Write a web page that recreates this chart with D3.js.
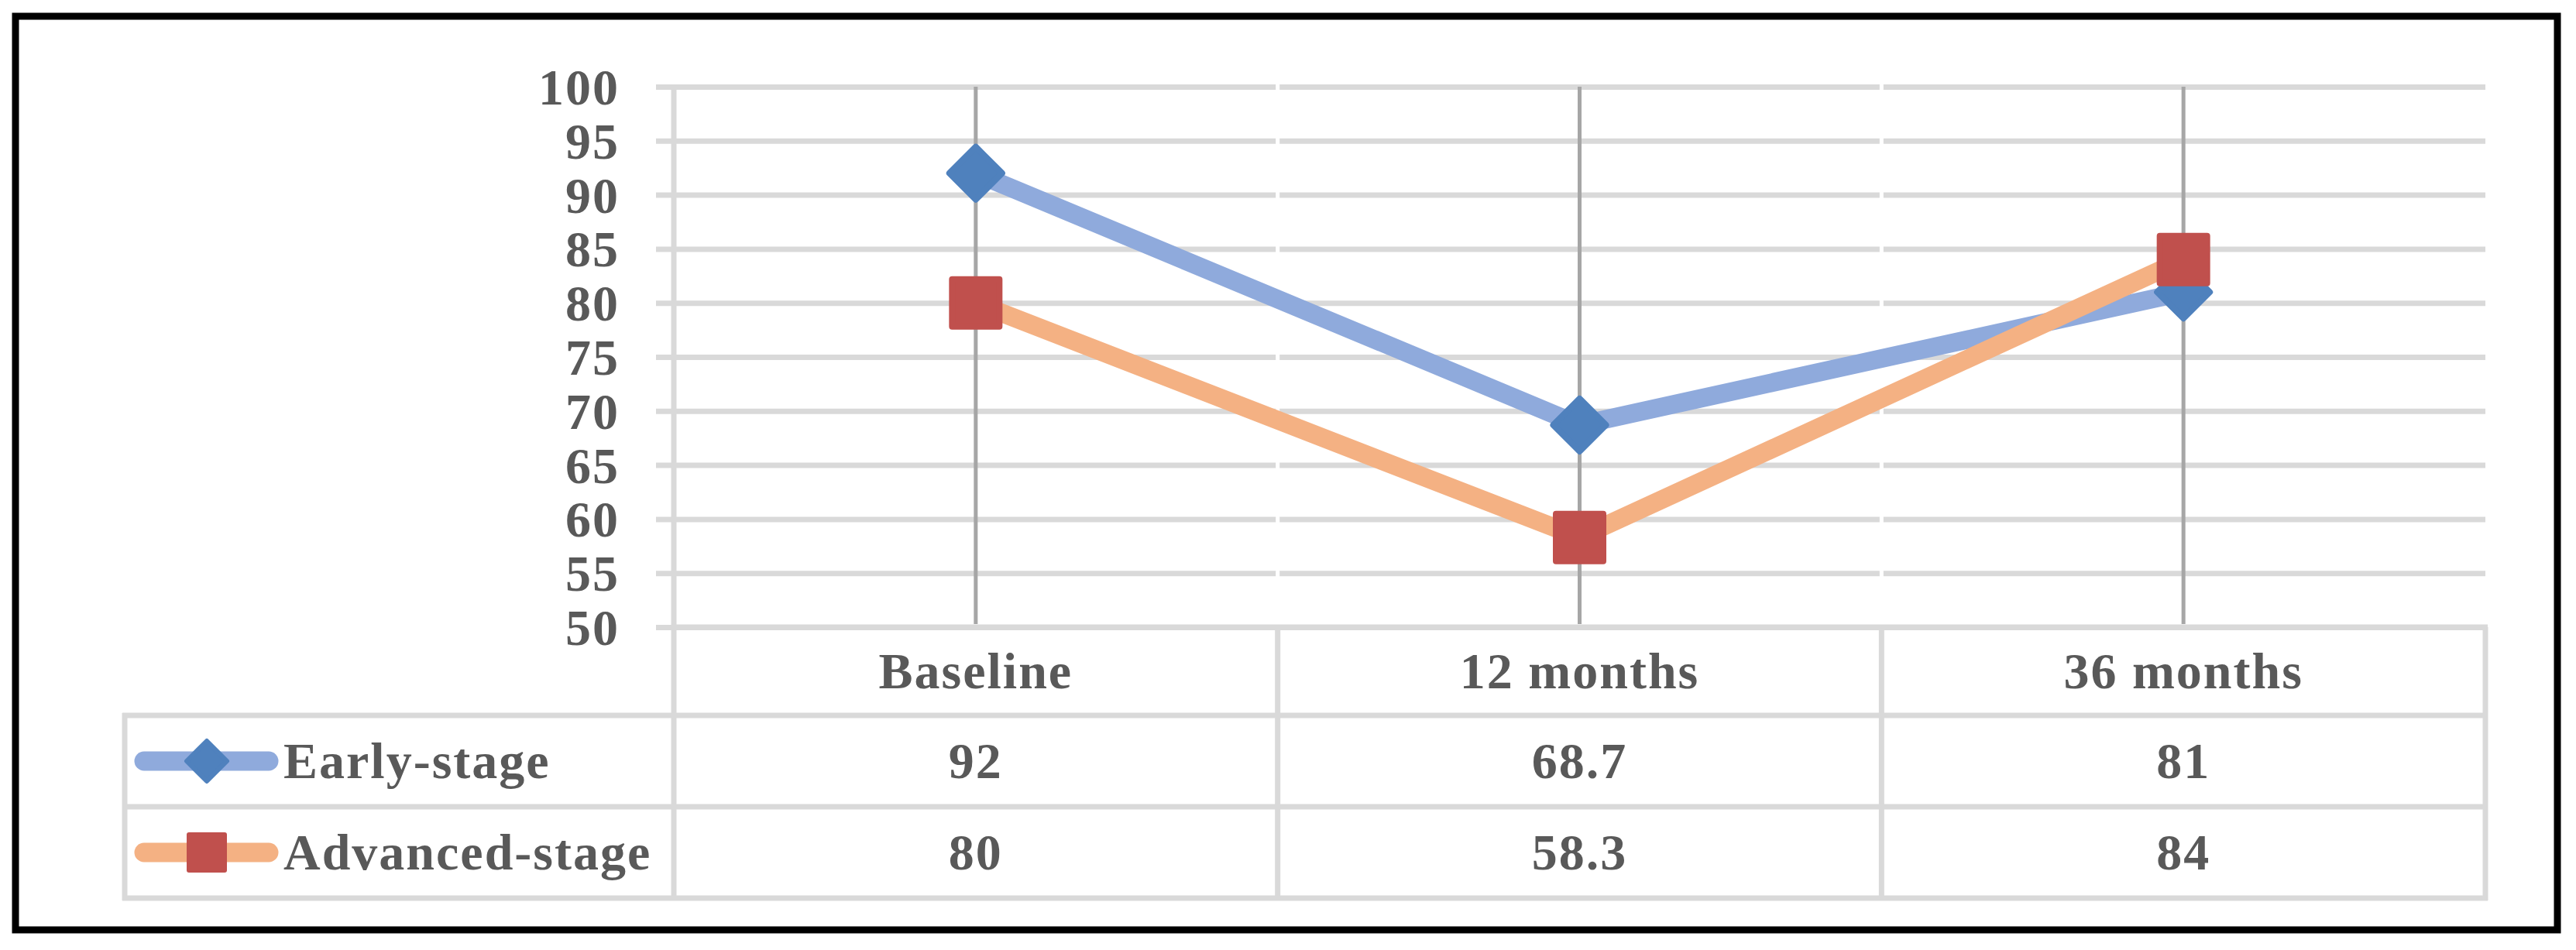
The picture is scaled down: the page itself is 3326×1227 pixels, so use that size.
<!DOCTYPE html>
<html>
<head>
<meta charset="utf-8">
<script src="https://cdn.jsdelivr.net/npm/d3@7"></script>
<style>
  html, body { margin: 0; padding: 0; background: #fff; }
  svg { display: block; }
  text { font-family: "Liberation Serif", "Times New Roman", serif; font-weight: bold; fill: #595959; }
</style>
</head>
<body>
<svg id="chart" width="3326" height="1227"></svg>
<script>
// ---- data ----
const categories = ["Baseline", "12 months", "36 months"];
const earlyValues = [92, 68.7, 81];
const advancedValues = [80, 58.3, 84];
const seriesNames = ["Early-stage", "Advanced-stage"];
const yTicks = [50, 55, 60, 65, 70, 75, 80, 85, 90, 95, 100];
const valueLabels = [["92", "68.7", "81"], ["80", "58.3", "84"]];

// ---- layout ----
const W = 3326, H = 1227;
const plotL = 870, plotR = 3209, plotT = 112, plotB = 810;
const tableL = 161;
const rowLines = [810, 924, 1042, 1160];
const fontSize = 66;
const grid = "#d9d9d9";

const svg = d3.select("#chart");

// outer frame
svg.append("rect")
  .attr("x", 20).attr("y", 21).attr("width", 3282).attr("height", 1180)
  .attr("fill", "none").attr("stroke", "#000").attr("stroke-width", 9);

const x = d3.scaleBand().domain(categories).range([plotL, plotR]).padding(0);
const cx = c => x(c) + x.bandwidth() / 2;
const y = d3.scaleLinear().domain([50, 100]).range([plotB, plotT]);

// horizontal gridlines + y labels via axis
const yAxis = d3.axisLeft(y).tickValues(yTicks).tickSize(-(plotR - 847)).tickPadding(47).tickFormat(d3.format("d"));
const gy = svg.append("g").attr("transform", "translate(847,0)").call(yAxis);
gy.select(".domain").remove();
gy.selectAll(".tick line").attr("stroke", grid).attr("stroke-width", 7);
gy.selectAll(".tick text")
  .attr("font-size", fontSize)
  .attr("font-family", "Liberation Serif, serif")
  .attr("font-weight", "bold")
  .attr("fill", "#595959")
  .attr("letter-spacing", 2)
  .attr("dy", "0.34em");

// small white gaps at category separators
svg.append("g").selectAll("line").data(categories.slice(1)).join("line")
  .attr("x1", d => x(d)).attr("x2", d => x(d))
  .attr("y1", plotT - 4).attr("y2", plotB - 4)
  .attr("stroke", "#fff").attr("stroke-width", 5);

// vertical category lines
svg.append("g").selectAll("line").data(categories).join("line")
  .attr("x1", d => cx(d)).attr("x2", d => cx(d))
  .attr("y1", plotT).attr("y2", plotB - 4)
  .attr("stroke", "#a6a6a6").attr("stroke-width", 5);

// y axis line
svg.append("line").attr("x1", plotL).attr("x2", plotL).attr("y1", plotT).attr("y2", rowLines[3] + 3)
  .attr("stroke", grid).attr("stroke-width", 7);

// ---- data table ----
const tbl = svg.append("g");
rowLines.forEach((ry, i) => {
  tbl.append("line")
    .attr("x1", i === 0 ? plotL : tableL - 3).attr("x2", plotR + 3)
    .attr("y1", ry).attr("y2", ry)
    .attr("stroke", grid).attr("stroke-width", 7);
});
tbl.append("line").attr("x1", tableL).attr("x2", tableL).attr("y1", rowLines[1] - 3).attr("y2", rowLines[3] + 3)
  .attr("stroke", grid).attr("stroke-width", 7);
tbl.selectAll("line.sep").data(categories.slice(1).map(c => x(c)).concat([plotR])).join("line")
  .attr("class", "sep")
  .attr("x1", d => d).attr("x2", d => d).attr("y1", rowLines[0]).attr("y2", rowLines[3] + 3)
  .attr("stroke", grid).attr("stroke-width", 7);

// header texts
tbl.selectAll("text.hdr").data(categories).join("text")
  .attr("class", "hdr")
  .attr("x", d => cx(d)).attr("y", (rowLines[0] + rowLines[1]) / 2 + 22)
  .attr("text-anchor", "middle").attr("font-size", fontSize).attr("letter-spacing", 2)
  .text(d => d);

// value texts
valueLabels.forEach((vals, si) => {
  const yy = (rowLines[si + 1] + rowLines[si + 2]) / 2 + 22;
  tbl.selectAll("text.v" + si).data(vals).join("text")
    .attr("class", "v" + si)
    .attr("x", (d, i) => cx(categories[i])).attr("y", yy)
    .attr("text-anchor", "middle").attr("font-size", fontSize).attr("letter-spacing", 2)
    .text(d => d);
});

// ---- series ----
const series = [
  { name: seriesNames[0], values: earlyValues, line: "#8faadc", mark: "#4f81bd", shape: "diamond" },
  { name: seriesNames[1], values: advancedValues, line: "#f4b183", mark: "#c0504d", shape: "square" }
];

function markerPath(shape, h) {
  if (shape === "diamond") return `M0,${-h}L${h},0L0,${h}L${-h},0Z`;
  return `M${-h},${-h}L${h},${-h}L${h},${h}L${-h},${h}Z`;
}

const lineGen = d3.line().x((d, i) => cx(categories[i])).y(d => y(d));

series.forEach(s => {
  const g = svg.append("g");
  g.append("path").datum(s.values)
    .attr("d", lineGen)
    .attr("fill", "none").attr("stroke", s.line).attr("stroke-width", 24)
    .attr("stroke-linejoin", "round").attr("stroke-linecap", "round");
  g.selectAll("path.m").data(s.values).join("path")
    .attr("class", "m")
    .attr("transform", (d, i) => `translate(${cx(categories[i])},${y(d)})`)
    .attr("d", markerPath(s.shape, s.shape === "diamond" ? 34 : 30.5))
    .attr("fill", s.mark).attr("stroke", s.mark).attr("stroke-width", 8).attr("stroke-linejoin", "round");
});

// ---- legend inside table ----
series.forEach((s, si) => {
  const rowC = (rowLines[si + 1] + rowLines[si + 2]) / 2;
  const lg = svg.append("g").attr("transform", `translate(0,${rowC})`);
  lg.append("line").attr("x1", 186).attr("x2", 347).attr("y1", 0).attr("y2", 0)
    .attr("stroke", s.line).attr("stroke-width", 25).attr("stroke-linecap", "round");
  lg.append("path")
    .attr("transform", "translate(267,0)")
    .attr("d", markerPath(s.shape, s.shape === "diamond" ? 26 : 23))
    .attr("fill", s.mark).attr("stroke", s.mark).attr("stroke-width", 6).attr("stroke-linejoin", "round");
  lg.append("text").attr("x", 366).attr("y", 22)
    .attr("font-size", fontSize).attr("letter-spacing", 2)
    .text(s.name);
});
</script>
</body>
</html>
